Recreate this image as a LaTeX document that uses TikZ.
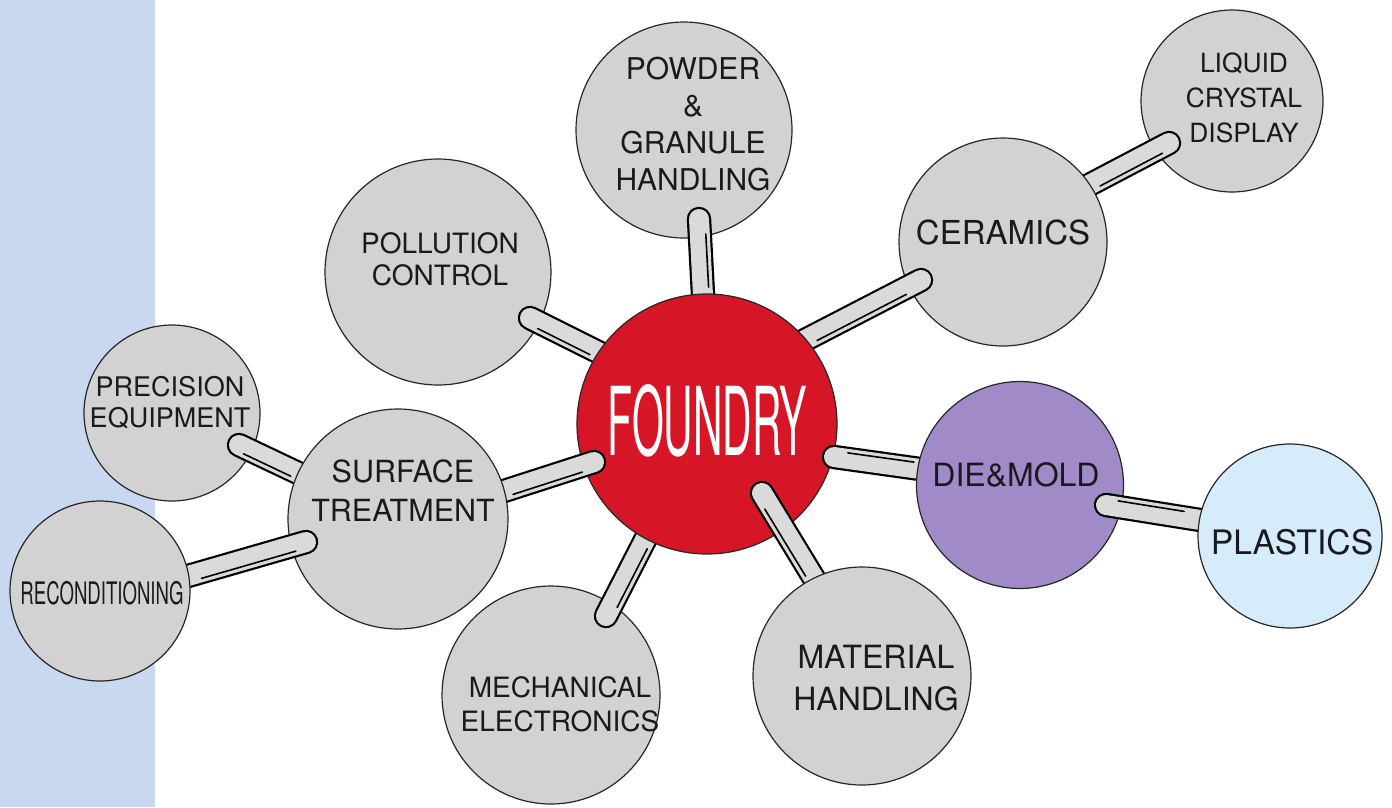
\documentclass[tikz,border=0pt]{standalone}
\usepackage{fontspec}
\setmainfont{TeX Gyre Heros}
\newfontfamily\narrowfont[FakeStretch=0.6]{TeX Gyre Heros}
\newfontfamily\foundryfont[FakeStretch=0.43]{TeX Gyre Heros}
\usetikzlibrary{calc}

\definecolor{discgrey}{RGB}{210,210,210}
\definecolor{pipegrey}{RGB}{218,218,218}
\definecolor{foundryred}{RGB}{214,22,38}
\definecolor{dieviolet}{RGB}{160,138,200}
\definecolor{plasticblue}{RGB}{214,236,250}
\definecolor{stripblue}{RGB}{200,216,240}
\definecolor{ink}{RGB}{26,26,30}

\begin{document}
\begin{tikzpicture}[x=1pt, y=-1pt,
    disc/.style={circle, draw=black!85, line width=1.2pt, fill=discgrey, inner sep=0pt},
    lbl/.style={align=center, inner sep=0pt, text=ink},
    pipe/.style={draw=black, line width=2.2pt, double=pipegrey, double distance=20pt, line cap=round},
    pipeshade/.style={black, line width=1.6pt, line cap=round}]

    \useasboundingbox (0,0) rectangle (1392,807);
    \fill[stripblue] (0,0) rectangle (155,807);

    % Pipe ends
    \coordinate (liq-end) at (1169,143);   \coordinate (liq-join) at (1091,184);
    \coordinate (pow-end) at (699,219);    \coordinate (pow-join) at (703,295);
    \coordinate (pol-end) at (530,318);    \coordinate (pol-join) at (598,352);
    \coordinate (mech-end) at (606,616);   \coordinate (mech-join) at (645,540);
    \coordinate (prec-end) at (239,445);   \coordinate (prec-join) at (298,473);
    \coordinate (cer-end) at (921,280);    \coordinate (cer-join) at (805,340);
    \coordinate (surf-end) at (594,462);   \coordinate (surf-join) at (504,491);
    \coordinate (mat-end) at (762,493);    \coordinate (mat-join) at (815,580);
    \coordinate (die-end) at (834,457);    \coordinate (die-join) at (920,469);
    \coordinate (rec-end) at (306,542);    \coordinate (rec-join) at (188,576);
    \coordinate (pla-end) at (1106,505);   \coordinate (pla-join) at (1200,520);

    % Outer discs
    \node[disc, minimum size=182pt] (liquid) at (1232,101) {};
    \node[lbl, font=\fontsize{26.4}{35}\selectfont] (liquid-txt) at (1244,97.5) {LIQUID\\CRYSTAL\\DISPLAY};
    \node[disc, minimum size=216pt] (powder) at (684,130) {};
    \node[lbl, font=\fontsize{30}{37}\selectfont] (powder-txt) at (693,124) {POWDER\\\&\\GRANULE\\HANDLING};
    \node[disc, minimum size=226pt] (pollution) at (438,272) {};
    \node[lbl, font=\fontsize{28}{32}\selectfont] (pollution-txt) at (440,259) {POLLUTION\\CONTROL};
    \node[disc, minimum size=218pt] (mechanical) at (551,695) {};
    \node[lbl, font=\fontsize{28}{34}\selectfont] (mechanical-txt) at (560,704) {MECHANICAL\\ELECTRONICS};
    \node[disc, minimum size=176pt] (precision) at (172,413) {};
    \node[lbl, font=\fontsize{27}{31}\selectfont] (precision-txt) at (170,402.5) {PRECISION\\EQUIPMENT};

    % Pipes into ceramics, foundry and surface treatment
    \draw[pipe] (liq-end) -- ($(liq-end)!1.3!(liq-join)$);
    \draw[pipeshade] ($(liq-end)!0.12!(liq-join)!6pt!90:(liq-join)$) -- ($(liq-end)!0.92!(liq-join)!6pt!90:(liq-join)$);
    \draw[pipe] (pow-end) -- ($(pow-end)!1.3!(pow-join)$);
    \draw[pipeshade] ($(pow-end)!0.2!(pow-join)!6pt!90:(pow-join)$) -- ($(pow-end)!0.9!(pow-join)!6pt!90:(pow-join)$);
    \draw[pipe] (pol-end) -- ($(pol-end)!1.3!(pol-join)$);
    \draw[pipeshade] ($(pol-end)!0.15!(pol-join)!-6pt!90:(pol-join)$) -- ($(pol-end)!0.92!(pol-join)!-6pt!90:(pol-join)$);
    \draw[pipe] (mech-end) -- ($(mech-end)!1.3!(mech-join)$);
    \draw[pipeshade] ($(mech-end)!0.15!(mech-join)!-6pt!90:(mech-join)$) -- ($(mech-end)!0.92!(mech-join)!-6pt!90:(mech-join)$);
    \draw[pipe] (prec-end) -- ($(prec-end)!1.3!(prec-join)$);
    \draw[pipeshade] ($(prec-end)!0.12!(prec-join)!-6pt!90:(prec-join)$) -- ($(prec-end)!0.92!(prec-join)!-6pt!90:(prec-join)$);

    % Ceramics
    \node[disc, minimum size=208pt] (ceramics) at (1003,242) {};
    \node[lbl, font=\fontsize{33}{38}\selectfont] (ceramics-txt) at (1003,232) {CERAMICS};
    \draw[pipe] (cer-end) -- ($(cer-end)!1.3!(cer-join)$);
    \draw[pipeshade] ($(cer-end)!0.15!(cer-join)!6pt!90:(cer-join)$) -- ($(cer-end)!0.92!(cer-join)!6pt!90:(cer-join)$);

    % Foundry
    \node[circle, draw=black!85, line width=1.2pt, fill=foundryred, inner sep=0pt, minimum size=260pt] (foundry) at (707,424) {};
    \node[inner sep=0pt, text=white, font=\foundryfont\fontsize{95}{95}\selectfont] (foundry-txt) at (707.5,421) {FOUNDRY};
    \draw[pipe] (surf-end) -- ($(surf-end)!1.3!(surf-join)$);
    \draw[pipeshade] ($(surf-end)!0.15!(surf-join)!6pt!90:(surf-join)$) -- ($(surf-end)!0.92!(surf-join)!6pt!90:(surf-join)$);
    \draw[pipe] (mat-end) -- ($(mat-end)!1.3!(mat-join)$);
    \draw[pipeshade] ($(mat-end)!0.15!(mat-join)!-6pt!90:(mat-join)$) -- ($(mat-end)!0.92!(mat-join)!-6pt!90:(mat-join)$);
    \draw[pipe] (die-end) -- ($(die-end)!1.3!(die-join)$);
    \draw[pipeshade] ($(die-end)!0.15!(die-join)!6pt!90:(die-join)$) -- ($(die-end)!0.92!(die-join)!6pt!90:(die-join)$);

    % Second ring
    \node[disc, minimum size=220pt] (surface) at (398,519) {};
    \node[lbl, font=\fontsize{30.5}{39}\selectfont] (surface-txt) at (403,491) {SURFACE\\TREATMENT};
    \node[disc, minimum size=218pt] (material) at (862,676) {};
    \node[lbl, font=\fontsize{32}{42}\selectfont] (material-txt) at (876,678) {MATERIAL\\HANDLING};
    \node[disc, fill=dieviolet, minimum size=207pt] (diemold) at (1020,485) {};
    \node[lbl, font=\fontsize{32}{38}\selectfont] (diemold-txt) at (1016,475) {DIE\&MOLD};
    \draw[pipe] (rec-end) -- ($(rec-end)!1.3!(rec-join)$);
    \draw[pipeshade] ($(rec-end)!0.1!(rec-join)!6pt!90:(rec-join)$) -- ($(rec-end)!0.9!(rec-join)!6pt!90:(rec-join)$);
    \draw[pipe] (pla-end) -- ($(pla-end)!1.3!(pla-join)$);
    \draw[pipeshade] ($(pla-end)!0.12!(pla-join)!6pt!90:(pla-join)$) -- ($(pla-end)!0.82!(pla-join)!6pt!90:(pla-join)$);

    % Last discs
    \node[disc, minimum size=180pt] (recond) at (100,591) {};
    \node[lbl, font=\narrowfont\fontsize{31}{36}\selectfont] (recond-txt) at (102,593.5) {RECONDITIONING};
    \node[disc, fill=plasticblue, minimum size=184pt] (plastics) at (1290,536) {};
    \node[lbl, font=\fontsize{33.7}{38}\selectfont] (plastics-txt) at (1292,542.5) {PLASTICS};

\end{tikzpicture}
\end{document}
